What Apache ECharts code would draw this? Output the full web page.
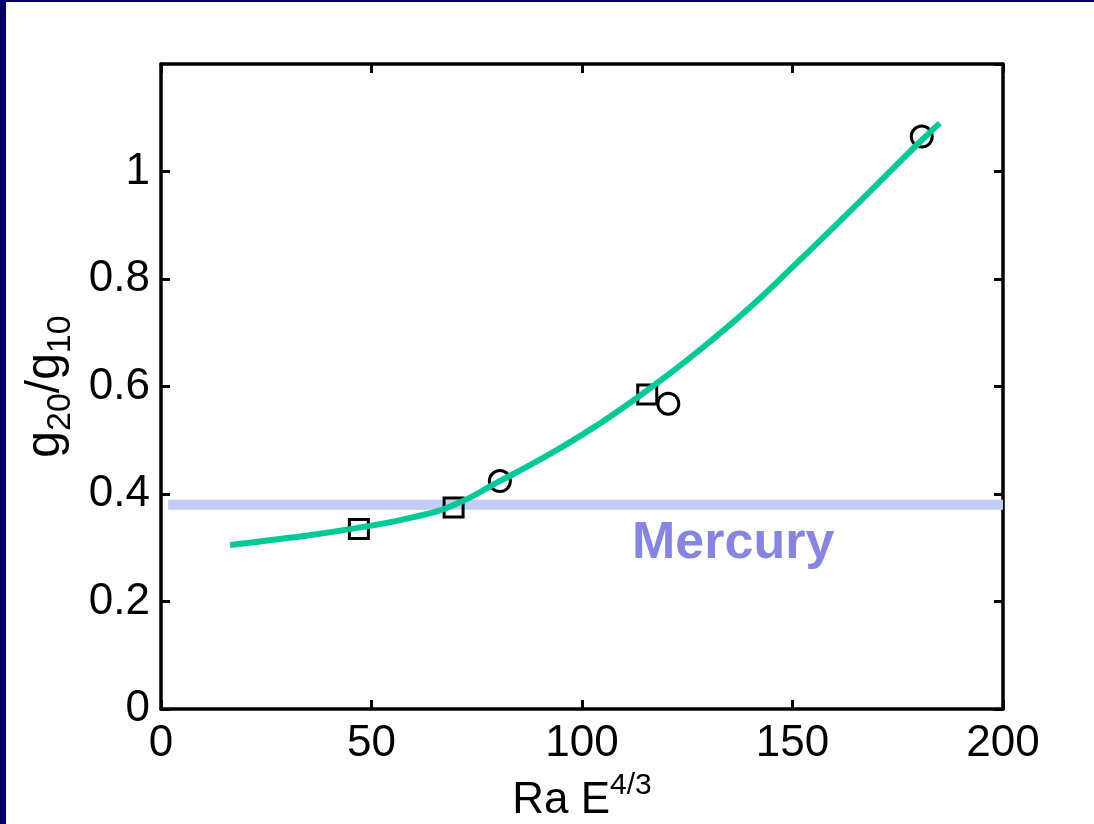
<!DOCTYPE html>
<html>
<head>
<meta charset="utf-8">
<script src="https://cdn.jsdelivr.net/npm/echarts@6/dist/echarts.min.js"></script>
<style>
html,body{margin:0;padding:0;background:#fff;}
#chart{width:1094px;height:824px;}
</style>
</head>
<body>
<div id="chart"></div>
<script>
// ---- data ----
const xTicks = [0, 50, 100, 150, 200];
const yTicks = [0, 0.2, 0.4, 0.6, 0.8, 1];
const squareX = [47, 69.5, 115.5];
const squareY = [0.335, 0.375, 0.585];
const circleX = [80.5, 120.5, 180.7];
const circleY = [0.424, 0.568, 1.065];
const curveX = [16.4, 30, 46, 60, 70, 80, 90, 100, 110, 120, 130, 140, 150, 160, 170, 180, 185];
const curveY = [0.305, 0.318, 0.336, 0.357, 0.381, 0.422, 0.464, 0.51, 0.562, 0.619, 0.681, 0.748, 0.822, 0.898, 0.975, 1.053, 1.09];
const mercuryX = [1.7, 200];
const mercuryY = [0.38, 0.38];
const mercuryLabel = 'Mercury';

const font = '"Liberation Sans", Arial, sans-serif';
const zip = (a, b) => a.map((v, i) => [v, b[i]]);

const chart = echarts.init(document.getElementById('chart'), null, {renderer: 'canvas'});

const axisLineStyle = {color: '#000', width: 3.5};
const tickStyle = {show: true, inside: true, length: 9, lineStyle: {color: '#000', width: 3}};

const option = {
  backgroundColor: '#fff',
  animation: false,
  grid: {left: 161, top: 64, right: 91, bottom: 115, containLabel: false, outerBoundsMode: 'none'},
  xAxis: [{
    type: 'value', min: xTicks[0], max: xTicks[xTicks.length - 1], interval: 50,
    axisLine: {show: true, onZero: false, lineStyle: axisLineStyle},
    axisTick: tickStyle,
    splitLine: {show: false},
    axisLabel: {color: '#000', fontSize: 44, fontFamily: font, margin: 13},
    name: '{m|Ra E}{sup|4/3}',
    nameLocation: 'middle',
    nameGap: 58,
    nameTextStyle: {
      rich: {
        m: {fontSize: 44, fontFamily: font, color: '#000', lineHeight: 60, verticalAlign: 'middle'},
        sup: {fontSize: 30, fontFamily: font, color: '#000', lineHeight: 30, verticalAlign: 'top'}
      }
    }
  }, {
    type: 'value', position: 'top', min: xTicks[0], max: xTicks[xTicks.length - 1], interval: 50,
    axisLine: {show: true, onZero: false, lineStyle: axisLineStyle},
    axisTick: tickStyle,
    splitLine: {show: false},
    axisLabel: {show: false}
  }],
  yAxis: [{
    type: 'value', min: 0, max: 1.2, interval: 0.2,
    axisLine: {show: true, onZero: false, lineStyle: axisLineStyle},
    axisTick: tickStyle,
    splitLine: {show: false},
    axisLabel: {color: '#000', fontSize: 44, fontFamily: font, margin: 11, showMaxLabel: false,
      formatter: v => (yTicks.some(t => Math.abs(t - v) < 1e-6) ? String(Math.round(v * 10) / 10) : '')},
    name: '{m|g}{sub|20}{m|/g}{sub|10}',
    nameLocation: 'middle',
    nameRotate: 90,
    nameGap: 80,
    nameTextStyle: {
      rich: {
        m: {fontSize: 48, fontFamily: font, color: '#000', lineHeight: 64, verticalAlign: 'middle'},
        sub: {fontSize: 34, fontFamily: font, color: '#000', lineHeight: 32, verticalAlign: 'bottom'}
      }
    }
  }, {
    type: 'value', position: 'right', min: 0, max: 1.2, interval: 0.2,
    axisLine: {show: true, onZero: false, lineStyle: axisLineStyle},
    axisTick: tickStyle,
    splitLine: {show: false},
    axisLabel: {show: false}
  }],
  series: [{
    type: 'line', name: 'Mercury band', data: zip(mercuryX, mercuryY),
    showSymbol: false, symbol: 'none', z: 1,
    lineStyle: {color: '#c2cdf6', width: 10}
  }, {
    type: 'scatter', name: 'squares', data: zip(squareX, squareY),
    symbol: 'rect', symbolSize: 19, z: 2,
    itemStyle: {color: 'rgba(0,0,0,0)', borderColor: '#000', borderWidth: 3, opacity: 1}
  }, {
    type: 'scatter', name: 'circles', data: zip(circleX, circleY),
    symbol: 'circle', symbolSize: 21, z: 2,
    itemStyle: {color: 'rgba(0,0,0,0)', borderColor: '#000', borderWidth: 3, opacity: 1}
  }, {
    type: 'line', name: 'fit', data: zip(curveX, curveY),
    smooth: true, showSymbol: false, symbol: 'none', z: 3,
    lineStyle: {color: '#00c896', width: 6}
  }],
  graphic: [
    {type: 'rect', left: 0, top: 0, shape: {width: 6, height: 824}, style: {fill: '#000066'}, z: 100},
    {type: 'rect', left: 0, top: 0, shape: {width: 1094, height: 2}, style: {fill: '#000066'}, z: 100},
    {type: 'text', left: 632, top: 518, z: 50,
      style: {text: mercuryLabel, fill: '#8686e0', font: 'bold 52px ' + font}}
  ]
};
chart.setOption(option);
</script>
</body>
</html>
